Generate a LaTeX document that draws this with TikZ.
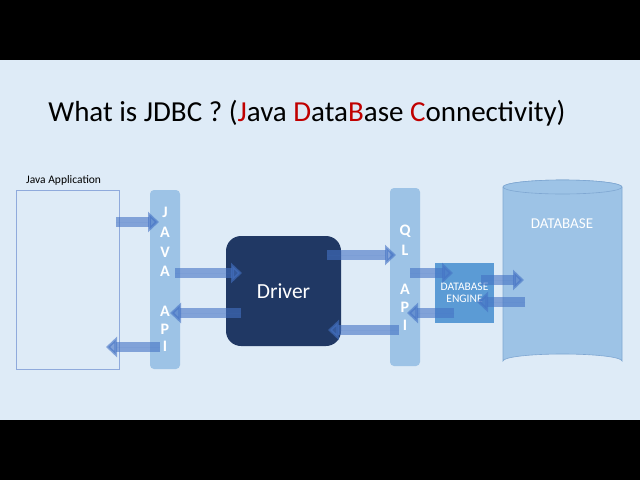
\documentclass[tikz,border=0pt]{standalone}
\usepackage{fontspec}
\setmainfont{Carlito}
\usetikzlibrary{arrows.meta,shapes.geometric}
\definecolor{slidebg}{HTML}{DEEBF7}
\definecolor{barblue}{HTML}{9DC3E6}
\definecolor{arrowblue}{HTML}{4472C4}
\definecolor{drivblue}{HTML}{203864}
\definecolor{engblue}{HTML}{5B9BD5}
\definecolor{boxline}{HTML}{8FAADC}
\definecolor{cylline}{HTML}{7FA7D2}
\definecolor{titlered}{HTML}{C00000}
\tikzset{
  apibar/.style={fill=barblue, rounded corners=4pt, draw=none},
  apiletter/.style={text=white, inner sep=0pt, font=\bfseries\fontsize{16}{16}\selectfont},
  blockarrow/.style={draw=arrowblue, line width=10pt, opacity=.6,
    -{Triangle[length=11pt,width=20pt]}, fill=arrowblue},
}
\begin{document}
\begin{tikzpicture}[x=1pt,y=-1pt]
% frame and background
\fill[black] (0,0) rectangle (640,480);
\fill[slidebg] (0,60) rectangle (640,420);
\useasboundingbox (0,0) rectangle (640,480);

% title
\node[font=\fontsize{29}{29}\selectfont, anchor=center] (title) at (307,113)
  {What is JDBC ? (\textcolor{titlered}{J}ava \textcolor{titlered}{D}ata\textcolor{titlered}{B}ase \textcolor{titlered}{C}onnectivity)};

% Java application
\node[draw=boxline, line width=0.6pt, minimum width=103pt, minimum height=179pt, inner sep=0pt] (app) at (67.5,279.5) {};
\node[font=\fontsize{11.5}{11.5}\selectfont, anchor=south west, inner sep=1pt] (applabel) at (25,187) {Java Application};

% Java API bar
\node[apibar, minimum width=30pt, minimum height=179pt, inner sep=0pt] (japi) at (165,279.5) {};
\foreach \l/\yy [count=\i] in {J/212,A/232,V/252,A/271,A/311,P/329,I/346}
  \node[apiletter] (jl\i) at (165,\yy) {\l};

% Driver
\node[fill=drivblue, rounded corners=15pt, minimum width=115pt, minimum height=110pt, inner sep=0pt,
  text=white, font=\fontsize{21.5}{21.5}\selectfont] (driver) at (283.5,291) {Driver};

% QL API bar
\node[apibar, minimum width=30pt, minimum height=178pt, inner sep=0pt] (qapi) at (405,277) {};
\foreach \l/\yy [count=\i] in {Q/231,L/250,A/289,P/307,I/325}
  \node[apiletter] (ql\i) at (405,\yy) {\l};

% Database cylinder
\filldraw[fill=barblue, draw=cylline, line width=0.6pt]
  (503,187) -- (503,361) arc[start angle=180, end angle=360, x radius=59.5, y radius=7]
  -- (622,187) arc[start angle=0, end angle=-180, x radius=59.5, y radius=7] -- cycle;
\draw[fill=barblue, draw=cylline, line width=0.6pt] (562.5,187) ellipse[x radius=59.5, y radius=7];
\node[inner sep=0pt, minimum width=119pt, minimum height=189pt] (db) at (562.5,274.5) {};
\node[text=white, font=\fontsize{15}{15}\selectfont] (dblabel) at (562,224) {DATABASE};

% Database engine
\node[fill=engblue, minimum width=59pt, minimum height=60pt, inner sep=0pt, text=white,
  align=center, font=\fontsize{11.5}{12.5}\selectfont] (engine) at (464.5,293) {DATABASE\\ENGINE};

% arrow endpoints
\coordinate (s1) at (116,222); \coordinate (e1) at (159,222);
\coordinate (s2) at (175,273); \coordinate (e2) at (242,273);
\coordinate (s3) at (241,313); \coordinate (e3) at (170,313);
\coordinate (s4) at (160,347); \coordinate (e4) at (106,347);
\coordinate (s5) at (327,255); \coordinate (e5) at (396,255);
\coordinate (s6) at (399,330); \coordinate (e6) at (328,330);
\coordinate (s7) at (410,273); \coordinate (e7) at (453,273);
\coordinate (s8) at (454,313); \coordinate (e8) at (407,313);
\coordinate (s9) at (481,280); \coordinate (e9) at (524,280);
\coordinate (s10) at (525,302); \coordinate (e10) at (477,302);

\foreach \k in {1,...,10}
  \draw[blockarrow] (s\k) -- (e\k);
\end{tikzpicture}
\end{document}
